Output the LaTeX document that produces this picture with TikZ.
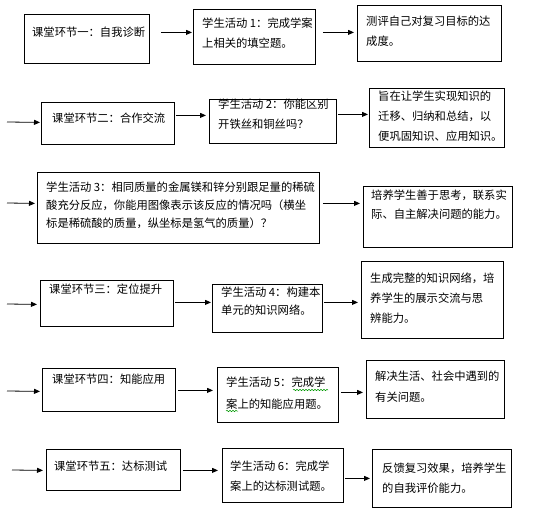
\documentclass[tikz,border=0pt]{standalone}
\usepackage{fontspec}
\newfontfamily\cjk{Noto Sans CJK SC}
\usetikzlibrary{arrows.meta,calc,decorations.pathmorphing}
\begin{document}
\begin{tikzpicture}[x=1pt,y=-1pt,
  box/.style={draw,line width=0.8pt,anchor=north west,inner sep=0pt},
  txt/.style={anchor=north west,inner sep=0pt,align=left,font=\cjk\fontsize{11.3}{20}\selectfont},
  arr/.style={line width=0.8pt,-{Triangle[length=6pt,width=5pt]}},
  squig/.style={draw=green!60!black,line width=0.5pt,decorate,decoration={snake,amplitude=0.7pt,segment length=3pt}}]
\useasboundingbox[fill=white] (0,0) rectangle (558,511);
% boxes
\node[box,minimum width=125pt,minimum height=49pt] (A) at (24,14) {};
\node[box,minimum width=122pt,minimum height=55pt] (B) at (193,9) {};
\node[box,minimum width=144pt,minimum height=56pt] (C) at (357,5) {};
\node[box,minimum width=133pt,minimum height=42pt] (D) at (41,102) {};
\node[box,minimum width=127pt,minimum height=44pt] (E) at (209,99) {};
\node[box,minimum width=135pt,minimum height=59pt] (F) at (369,88) {};
\node[box,minimum width=282pt,minimum height=71pt] (G) at (37,172) {};
\node[box,minimum width=149pt,minimum height=61pt] (H) at (363,186) {};
\node[box,minimum width=133pt,minimum height=46pt] (I) at (40,280) {};
\node[box,minimum width=110pt,minimum height=48pt] (J) at (212,284) {};
\node[box,minimum width=142pt,minimum height=77pt] (K) at (361,261) {};
\node[box,minimum width=133pt,minimum height=43pt] (L) at (42,368) {};
\node[box,minimum width=121pt,minimum height=55pt] (M) at (217,367) {};
\node[box,minimum width=138pt,minimum height=58pt] (N) at (366,360) {};
\node[box,minimum width=134pt,minimum height=41pt] (O) at (46,449) {};
\node[box,minimum width=121pt,minimum height=54pt] (P) at (222,448) {};
\node[box,minimum width=139pt,minimum height=58pt] (Q) at (372,449) {};
% texts
\node[txt] (tA) at (32,26.5) {课堂环节一：自我诊断};
\node[txt] (tB) at (202,18) {学生活动 1：完成学案\\上相关的填空题。};
\node[txt] (tC) at (366,15.5) {测评自己对复习目标的达\\成度。};
\node[txt] (tD) at (52,112.5) {课堂环节二：合作交流};
\node[txt] (tE) at (218,99) {学生活动 2：你能区别\\开铁丝和铜丝吗？};
\node[txt] (tF) at (378,90.5) {旨在让学生实现知识的\\迁移、归纳和总结，以\\便巩固知识、应用知识。};
\node[txt,font=\cjk\fontsize{11.3}{18}\selectfont] (tG) at (46,181.5) {学生活动 3：相同质量的金属镁和锌分别跟足量的稀硫\\酸充分反应，你能用图像表示该反应的情况吗（横坐\\标是稀硫酸的质量，纵坐标是氢气的质量）？};
\node[txt,font=\cjk\fontsize{11.3}{19}\selectfont] (tH) at (371,189.5) {培养学生善于思考，联系实\\际、自主解决问题的能力。};
\node[txt] (tI) at (49,283.5) {课堂环节三：定位提升};
\node[txt,font=\cjk\fontsize{11.3}{18}\selectfont] (tJ) at (221,286.5) {学生活动 4：构建本\\单元的知识网络。};
\node[txt] (tK) at (370,272.5) {生成完整的知识网络，培\\养学生的展示交流与思\\辨能力。};
\node[txt] (tL) at (52,373.5) {课堂环节四：知能应用};
\node[txt,font=\cjk\fontsize{11.3}{22}\selectfont] (tM) at (226,376.5) {学生活动 5：完成学\\案上的知能应用题。};
\node[txt,font=\cjk\fontsize{11.3}{21}\selectfont] (tN) at (375,370.5) {解决生活、社会中遇到的\\有关问题。};
\node[txt] (tO) at (54,460.5) {课堂环节五：达标测试};
\node[txt] (tP) at (230,460.5) {学生活动 6：完成学\\案上的达标测试题。};
\node[txt] (tQ) at (382,462.5) {反馈复习效果，培养学生\\的自我评价能力。};
% spell-check squiggles
\coordinate (q1) at (293,390); \coordinate (q2) at (328,390);
\coordinate (q3) at (226,411); \coordinate (q4) at (238,411);
\draw[squig] (q1) -- (q2);
\draw[squig] (q3) -- (q4);
% free arrow starts
\coordinate (s2) at (7,122);
\coordinate (s3) at (7,203);
\coordinate (s4) at (7,304);
\coordinate (s5) at (7,391);
\coordinate (s6) at (12,470);
% arrows
\draw[arr] ($(A.east)+(11,-6.5)$) -- ($(B.west)+(-1,-4.5)$);
\draw[arr] ($(B.east)+(7,-4.5)$) -- ($(C.west)+(-3,-1)$);
\draw[arr] (s2) -- ($(D.west)+(-1,-1)$);
\draw[arr] ($(D.east)+(1,-8)$) -- ($(E.west)+(-3,-6)$);
\draw[arr] ($(E.east)+(1,-7)$) -- ($(F.west)+(-1,-3.5)$);
\draw[arr] (s3) -- ($(G.west)+(-2,-4.5)$);
\draw[arr] ($(G.east)+(3,-4.5)$) -- ($(H.west)+(-3,-13.5)$);
\draw[arr] (s4) -- ($(I.west)+(-3,1)$);
\draw[arr] ($(I.east)+(1,-1)$) -- ($(J.west)+(-1,-6)$);
\draw[arr] ($(J.east)+(1,-6)$) -- ($(K.west)+(-3,2.5)$);
\draw[arr] (s5) -- ($(L.west)+(-2,1.5)$);
\draw[arr] ($(L.east)+(2,0.5)$) -- ($(M.west)+(-4,-4.5)$);
\draw[arr] ($(M.east)+(2,-2.5)$) -- ($(N.west)+(-3,3)$);
\draw[arr] (s6) -- ($(O.west)+(-3,0.5)$);
\draw[arr] ($(O.east)+(2,0.5)$) -- ($(P.west)+(-4,-5)$);
\draw[arr] ($(P.east)+(1,3)$) -- ($(Q.west)+(-2,0)$);
\end{tikzpicture}
\end{document}
